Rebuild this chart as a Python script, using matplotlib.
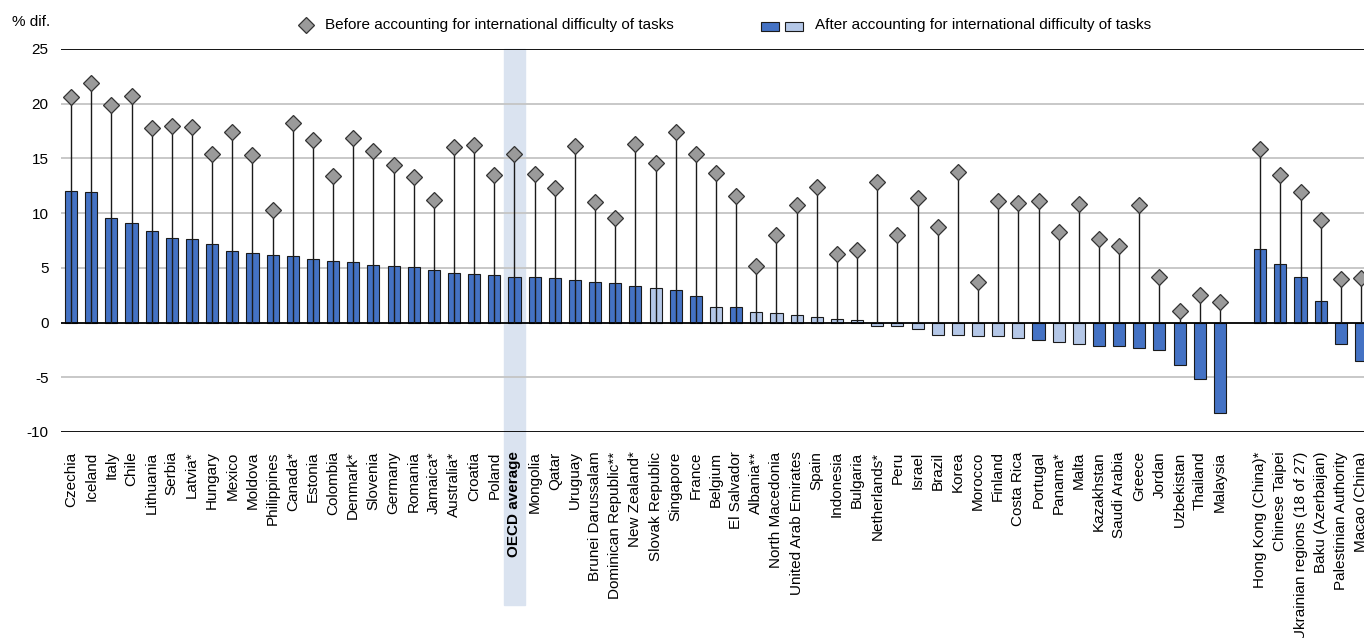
import matplotlib.pyplot as plt
import matplotlib.transforms as mtransforms
from matplotlib.lines import Line2D
from matplotlib.patches import Rectangle

plt.rcParams["font.family"] = ["Liberation Sans", "DejaVu Sans"]
plt.rcParams["axes.unicode_minus"] = False

# Données
pays = ["Czechia", "Iceland", "Italy", "Chile", "Lithuania", "Serbia", "Latvia*",
        "Hungary", "Mexico", "Moldova", "Philippines", "Canada*", "Estonia",
        "Colombia", "Denmark*", "Slovenia", "Germany", "Romania", "Jamaica*",
        "Australia*", "Croatia", "Poland", "OECD average", "Mongolia", "Qatar",
        "Uruguay", "Brunei Darussalam", "Dominican Republic**", "New Zealand*",
        "Slovak Republic", "Singapore", "France", "Belgium", "El Salvador",
        "Albania**", "North Macedonia", "United Arab Emirates", "Spain",
        "Indonesia", "Bulgaria", "Netherlands*", "Peru", "Israel", "Brazil",
        "Korea", "Morocco", "Finland", "Costa Rica", "Portugal", "Panama*",
        "Malta", "Kazakhstan", "Saudi Arabia", "Greece", "Jordan", "Uzbekistan",
        "Thailand", "Malaysia"]
avant = [20.6, 21.9, 19.9, 20.7, 17.8, 18.0, 17.9, 15.4, 17.4, 15.3, 10.3, 18.2,
         16.7, 13.4, 16.9, 15.7, 14.4, 13.3, 11.2, 16.0, 16.2, 13.5, 15.4, 13.6,
         12.3, 16.1, 11.0, 9.6, 16.3, 14.6, 17.4, 15.4, 13.7, 11.6, 5.2, 8.0,
         10.7, 12.4, 6.3, 6.6, 12.8, 8.0, 11.4, 8.7, 13.8, 3.7, 11.1, 10.9,
         11.1, 8.3, 10.8, 7.6, 7.0, 10.7, 4.2, 1.1, 2.5, 1.9]
apres = [12.0, 11.9, 9.6, 9.1, 8.4, 7.7, 7.6, 7.2, 6.5, 6.4, 6.2, 6.1, 5.8, 5.6,
         5.5, 5.3, 5.2, 5.1, 4.8, 4.5, 4.4, 4.35, 4.2, 4.2, 4.1, 3.9, 3.7, 3.6,
         3.3, 3.2, 3.0, 2.4, 1.45, 1.4, 0.95, 0.9, 0.65, 0.55, 0.3, 0.2, -0.35,
         -0.35, -0.55, -1.1, -1.15, -1.2, -1.2, -1.45, -1.6, -1.75, -2.0, -2.1,
         -2.15, -2.35, -2.55, -3.9, -5.15, -8.3]
non_signif = ["Slovak Republic", "Belgium", "Albania**", "North Macedonia",
              "United Arab Emirates", "Spain", "Indonesia", "Bulgaria",
              "Netherlands*", "Peru", "Israel", "Brazil", "Korea", "Morocco",
              "Finland", "Costa Rica", "Panama*", "Malta"]

partenaires = ["Hong Kong (China)*", "Chinese Taipei", "Ukrainian regions (18 of 27)",
               "Baku (Azerbaijan)", "Palestinian Authority", "Macao (China)"]
avant_part = [15.9, 13.5, 11.9, 9.4, 4.0, 4.1]
apres_part = [6.7, 5.35, 4.2, 1.95, -1.95, -3.5]

# Couleurs
bleu_fonce = "#4472C4"
bleu_clair = "#B4C7E7"
taille = 11

# Positions (un espace entre les deux groupes)
x_pays = list(range(len(pays)))
x_part = [len(pays) + 1 + i for i in range(len(partenaires))]
positions = x_pays + x_part
noms = pays + partenaires
val_avant = avant + avant_part
val_apres = apres + apres_part
couleurs = [bleu_clair if n in non_signif else bleu_fonce for n in noms]

fig = plt.figure(figsize=(13.64, 6.38), dpi=100)
ax = fig.add_axes([61 / 1364, 0.3229, 1 - 61 / 1364, 0.6003])

# Bande OECD
i_oecd = noms.index("OECD average")
trans = mtransforms.blended_transform_factory(ax.transData, ax.transAxes)
ax.add_patch(Rectangle((positions[i_oecd] - 0.5, -0.452), 1.0, 1.452,
                       transform=trans, color="#DAE3F0", zorder=0, clip_on=False))

# Grille
for y in [-5, 5, 10, 15, 20]:
    ax.axhline(y, color="#C4C4C4", lw=1.3, zorder=1)
for y in [-10, 0, 25]:
    ax.axhline(y, color="black", lw=1.3, zorder=3)

# Barres
ax.bar(positions, val_apres, width=0.6, color=couleurs, edgecolor="#1a1a1a",
       linewidth=0.8, zorder=2)

# Lignes et losanges
ax.vlines(positions, 0, val_avant, color="#1a1a1a", lw=1.0, zorder=4)
ax.plot(positions, val_avant, "D", markersize=8.5, markerfacecolor="#9A9A9A",
        markeredgecolor="#333333", markeredgewidth=0.9, linestyle="none", zorder=5)

ax.set_xlim(-0.5, 64.15)
ax.set_ylim(-10, 25)
ax.set_yticks([-10, -5, 0, 5, 10, 15, 20, 25])
ax.set_xticks(positions)
ax.set_xticklabels(noms, rotation=90, fontsize=taille)
for lab in ax.get_xticklabels():
    if lab.get_text() == "OECD average":
        lab.set_fontweight("bold")
ax.tick_params(axis="both", length=0, labelsize=taille)
ax.tick_params(axis="x", pad=14)
ax.tick_params(axis="y", pad=9)
for s in ax.spines.values():
    s.set_visible(False)

# Titre de l'axe et légende
fig.text(12 / 1364, 1 - 22 / 638, "% dif.", fontsize=taille, va="center")
fig.add_artist(Line2D([306 / 1364], [1 - 25 / 638], marker="D", markersize=8.5,
                      markerfacecolor="#9A9A9A", markeredgecolor="#333333",
                      markeredgewidth=0.9, transform=fig.transFigure))
fig.text(325 / 1364, 1 - 25 / 638, "Before accounting for international difficulty of tasks",
         fontsize=taille, va="center")
fig.add_artist(Rectangle((761 / 1364, 1 - 31 / 638), 18 / 1364, 9 / 638,
                         facecolor=bleu_fonce, edgecolor="#1a1a1a", lw=0.8,
                         transform=fig.transFigure))
fig.add_artist(Rectangle((785 / 1364, 1 - 31 / 638), 18 / 1364, 9 / 638,
                         facecolor=bleu_clair, edgecolor="#1a1a1a", lw=0.8,
                         transform=fig.transFigure))
fig.text(815 / 1364, 1 - 25 / 638, "After accounting for international difficulty of tasks",
         fontsize=taille, va="center")

fig.savefig("out.png", dpi=100)
